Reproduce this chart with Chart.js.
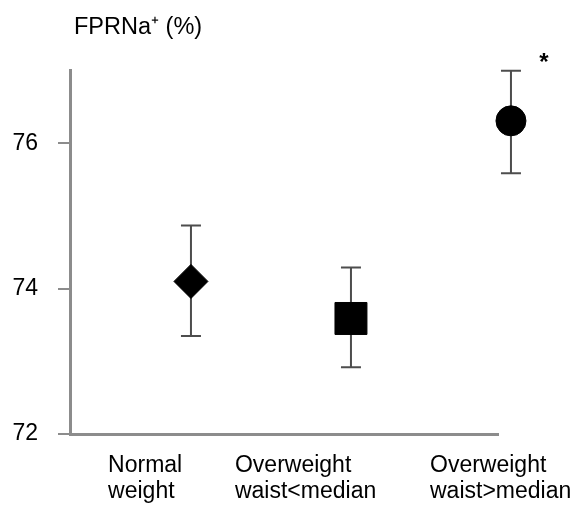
<!DOCTYPE html>
<html><head><meta charset="utf-8">
<script src="https://cdn.jsdelivr.net/npm/chart.js@4"></script>
<style>html,body{margin:0;padding:0;background:#fff}</style>
</head><body><canvas id="c" width="578" height="506"></canvas>
<script>
// ---- data ----
const categories = [['Normal','weight'],['Overweight','waist<median'],['Overweight','waist>median']];
const means = [74.1, 73.59, 76.31];
const lowerCI = [73.35, 72.92, 75.59];
const upperCI = [74.87, 74.29, 77.0];
const markers = ['rectRot','rect','circle'];
const significance = ['', '', '*'];
const yTicks = [72, 74, 76];
const yTitle = 'FPRNa\u207A (%)';

// ---- styles ----
const FONT = '"Liberation Sans", Arial, sans-serif';
const markerRadius = [17, 22.6, 15];
const labelShift = [-0.518, -0.725, -0.506]; // tick label left edge relative to category
const axisColor = '#8c8c8c';
const barColor = '#4d4d4d';

const errorBars = {
  id: 'errorBars',
  beforeDatasetsDraw(chart) {
    const {ctx, scales: {x, y}} = chart;
    ctx.save();
    ctx.strokeStyle = barColor;
    ctx.lineWidth = 2;
    means.forEach((m, i) => {
      const px = x.getPixelForValue(i);
      const yl = y.getPixelForValue(lowerCI[i]);
      const yh = y.getPixelForValue(upperCI[i]);
      ctx.beginPath();
      ctx.moveTo(px, yl); ctx.lineTo(px, yh);
      ctx.moveTo(px - 10, yl); ctx.lineTo(px + 10, yl);
      ctx.moveTo(px - 10, yh); ctx.lineTo(px + 10, yh);
      ctx.stroke();
    });
    ctx.restore();
  },
  afterDraw(chart) {
    const {ctx, scales: {x, y}, chartArea} = chart;
    ctx.save();
    ctx.fillStyle = '#000';
    ctx.textBaseline = 'middle';
    ctx.textAlign = 'left';
    ctx.font = '23.5px ' + FONT;
    ctx.fillText(yTitle, chartArea.left + 4, 28);
    ctx.font = 'bold 24px ' + FONT;
    ctx.textAlign = 'center';
    significance.forEach((s, i) => {
      if (!s) return;
      ctx.fillText(s, x.getPixelForValue(i) + 33, y.getPixelForValue(upperCI[i]) - 7);
    });
    ctx.restore();
  }
};

new Chart(document.getElementById('c'), {
  type: 'scatter',
  data: {
    datasets: [{
      data: means.map((m, i) => ({x: i, y: m})),
      pointStyle: markers,
      pointRadius: markerRadius,
      pointHoverRadius: markerRadius,
      backgroundColor: '#000',
      borderColor: '#000',
      borderWidth: 1,
      clip: false
    }]
  },
  options: {
    responsive: false,
    animation: false,
    devicePixelRatio: 1,
    layout: {padding: {top: 70, right: 80, left: 0, bottom: 0}},
    plugins: {legend: {display: false}, tooltip: {enabled: false}},
    scales: {
      x: {
        type: 'linear',
        min: -0.756,
        max: 1.919,
        grid: {display: false, drawTicks: false},
        border: {display: true, color: axisColor, width: 3},
        afterBuildTicks: s => { s.ticks = categories.map((c, i) => ({value: i + labelShift[i]})); },
        afterFit: s => { s.height = 72; s.paddingLeft = 0; s.paddingRight = 0; },
        ticks: {
          align: 'start',
          autoSkip: false,
          maxRotation: 0,
          minRotation: 0,
          padding: 19,
          color: '#000',
          font: {family: FONT, size: 23, lineHeight: 1.12},
          callback: (v, i) => categories[i]
        }
      },
      y: {
        min: 72,
        max: 77.01,
        afterBuildTicks: s => { s.ticks = yTicks.map(v => ({value: v})); },
        afterFit: s => { s.width = 70; s.paddingTop = 0; s.paddingBottom = 0; },
        grid: {display: true, drawOnChartArea: false, drawTicks: true, tickLength: 12, color: axisColor, lineWidth: 2},
        border: {display: true, color: axisColor, width: 3},
        ticks: {
          padding: 20,
          color: '#000',
          font: {family: FONT, size: 23},
          callback: v => String(v)
        }
      }
    }
  },
  plugins: [errorBars]
});
</script>
</body></html>
